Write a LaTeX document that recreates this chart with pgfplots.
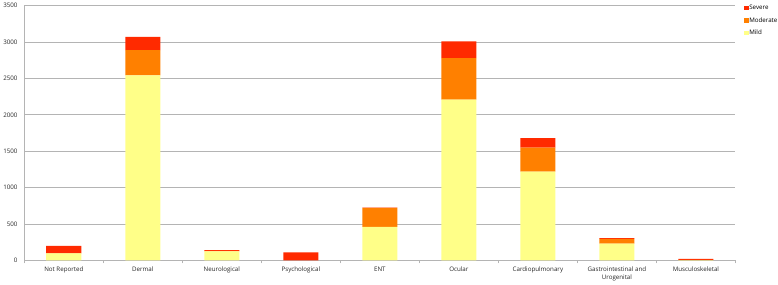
\documentclass[border=0pt]{standalone}
\usepackage{pgfplots}
\pgfplotsset{compat=1.18}
\usepackage{fontspec}
\setmainfont{Open Sans}
\definecolor{mild}{HTML}{FFFF88}
\definecolor{moderate}{HTML}{FF8000}
\definecolor{severe}{HTML}{FF2A00}
\definecolor{gridc}{HTML}{B4B4B4}
\begin{document}
\begin{tikzpicture}
\begin{axis}[
  scale only axis,
  width=709bp, height=254bp,
  ybar stacked,
  bar width=35bp,
  ymin=0, ymax=3500,
  ytick={0,500,...,3500},
  xmin=-0.5, xmax=8.5,
  xtick={0,...,8},
  xticklabels={Not Reported,Dermal,Neurological,Psychological,ENT,Ocular,Cardiopulmonary,{Gastrointestinal and\\Urogenital},Musculoskeletal},
  xticklabel style={align=center, font=\fontsize{6.2}{7.8}\selectfont, color=black!85, yshift=1bp},
  yticklabel style={font=\fontsize{6.2}{7.5}\selectfont, color=black!85, xshift=1bp},
  /pgf/number format/assume math mode=true,
  /pgf/number format/1000 sep={},
  major x tick style={draw=none},
  minor xtick={-0.5,0.5,...,8.5},
  minor x tick style={gridc, line width=0.6pt},
  minor tick length=3bp,
  tick align=outside,
  major y tick style={draw=none},
  ymajorgrids,
  grid style={gridc, line width=0.6pt},
  axis x line*=bottom,
  axis y line*=left,
  axis line style={gridc, line width=0.6pt, -},
  legend style={at={(1.012,1.005)}, anchor=north west, draw=none, fill=none,
    font=\fontsize{6.2}{7.5}\selectfont, row sep=5bp, inner sep=0pt,
    nodes={inner sep=0.6bp},
    legend cell align=left},
  legend image code/.code={\fill[#1] (0,-2.2bp) rectangle (4.5bp,2.3bp);},
  reverse legend,
]
\addplot[fill=mild, draw=none] coordinates {(0,95) (1,2540) (2,125) (3,0) (4,460) (5,2210) (6,1220) (7,230) (8,5)};
\addplot[fill=moderate, draw=none] coordinates {(0,5) (1,350) (2,5) (3,0) (4,260) (5,570) (6,330) (7,65) (8,3)};
\addplot[fill=severe, draw=none] coordinates {(0,100) (1,180) (2,10) (3,110) (4,5) (5,230) (6,130) (7,10) (8,12)};
\legend{Mild,Moderate,Severe}
\end{axis}
\end{tikzpicture}
\end{document}
